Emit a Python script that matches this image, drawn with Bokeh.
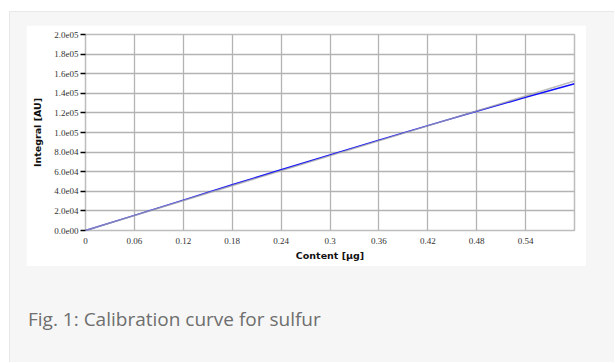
from bokeh.plotting import figure
from bokeh.models import Range1d, FixedTicker, Div
from bokeh.layouts import column
from bokeh.embed import file_html
from bokeh.resources import INLINE

# ---- data ----
content = [0.0, 0.06, 0.12, 0.18, 0.24, 0.30, 0.36, 0.42, 0.48, 0.54, 0.60]
integral_measured = [0, 15400, 31000, 46600, 62000, 77200, 92200, 107000, 121600, 135900, 149800]
fit_content = [0.0, 0.60]
fit_integral = [0, 152500]

x_ticks = [0.0, 0.06, 0.12, 0.18, 0.24, 0.30, 0.36, 0.42, 0.48, 0.54]
x_tick_labels = ["0", "0.06", "0.12", "0.18", "0.24", "0.3", "0.36", "0.42", "0.48", "0.54"]
y_ticks = [0, 20000, 40000, 60000, 80000, 100000, 120000, 140000, 160000, 180000, 200000]
y_tick_labels = ["0.0e00", "2.0e04", "4.0e04", "6.0e04", "8.0e04", "1.0e05",
                 "1.2e05", "1.4e05", "1.6e05", "1.8e05", "2.0e05"]
x_title = "Content [µg]"
y_title = "Integral [AU]"
caption = "Fig. 1: Calibration curve for sulfur"

p = figure(width=560, height=241, output_backend="svg", toolbar_location=None,
           x_range=Range1d(0, 0.6), y_range=Range1d(0, 200000),
           min_border_left=59, min_border_right=12, min_border_top=9, min_border_bottom=36,
           margin=(13, 29, 0, 16))

p.border_fill_color = "white"
p.background_fill_color = "white"
p.outline_line_color = "#bdbdbd"
p.outline_line_width = 1.5

# grids
p.xgrid.ticker = FixedTicker(ticks=x_ticks)
p.ygrid.ticker = FixedTicker(ticks=y_ticks)
for g in (p.xgrid, p.ygrid):
    g.grid_line_color = "#b3b3b3"
    g.grid_line_width = 1.3

# axes
p.xaxis.ticker = FixedTicker(ticks=x_ticks)
p.xaxis.major_label_overrides = {t: l for t, l in zip(x_ticks, x_tick_labels)}
p.yaxis.ticker = FixedTicker(ticks=y_ticks)
p.yaxis.major_label_overrides = {t: l for t, l in zip(y_ticks, y_tick_labels)}
for ax in (p.xaxis, p.yaxis):
    ax.axis_line_color = None
    ax.minor_tick_line_color = None
    ax.major_label_text_font = "Liberation Serif"
    ax.major_label_text_font_size = "9px"
    ax.major_label_text_color = "#333333"
    ax.axis_label_text_font = "DejaVu Sans"
    ax.axis_label_text_font_style = "bold"
    ax.axis_label_text_font_size = "9.5px"
    ax.axis_label_text_color = "#111111"
p.xaxis.axis_label = x_title
p.yaxis.axis_label = y_title
p.xaxis.major_tick_line_color = None
p.xaxis.major_tick_out = 0
p.xaxis.major_tick_in = 0
p.xaxis.major_label_standoff = 7
p.xaxis.axis_label_standoff = 3
p.yaxis.major_tick_line_color = "black"
p.yaxis.major_tick_line_width = 1.5
p.yaxis.major_tick_out = 5
p.yaxis.major_tick_in = 0
p.yaxis.major_label_standoff = 2
p.yaxis.axis_label_standoff = 8

# data lines
p.line(content, integral_measured, line_color="#1010ff", line_width=1.5)
p.line(fit_content, fit_integral, line_color="#a6a6a6", line_width=1.6, line_alpha=0.75)

cap = Div(text=caption, width=560, height=30, margin=(40, 0, 0, 18),
          styles={"font-family": "'Open Sans', sans-serif", "font-size": "19px",
                  "color": "#6e6e6e", "line-height": "normal", "white-space": "nowrap"})

layout = column(p, cap, width=605, height=351, margin=(11, 0, 0, 9),
                styles={"background-color": "#f6f6f6",
                        "border-left": "1px solid #e8e8e8",
                        "border-top": "1px solid #e8e8e8"})

open("out.html", "w").write(file_html(layout, INLINE))
